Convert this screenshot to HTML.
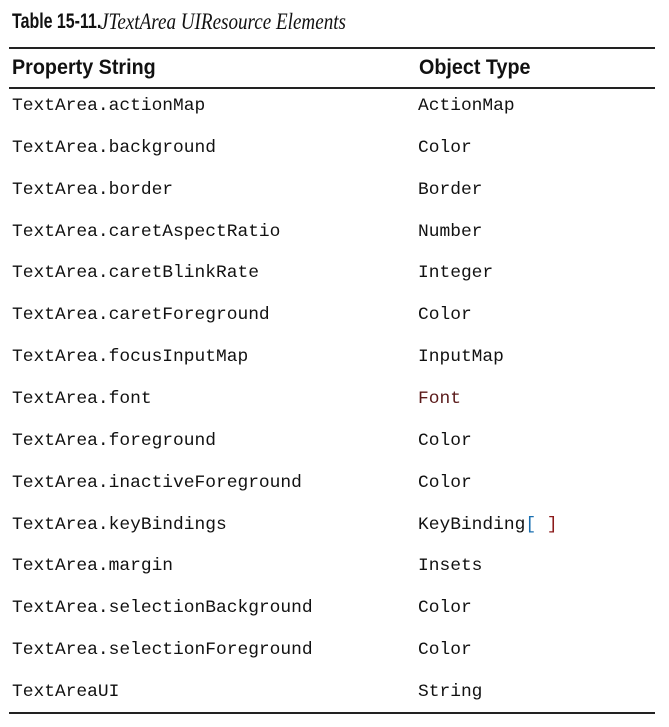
<!DOCTYPE html>
<html><head><style>
body{margin:0;width:669px;height:727px;background:#fff;position:relative;overflow:hidden;color:#111}
.l{position:absolute;left:9px;width:646px;height:2px;background:#222}
.m{position:absolute;font-family:"Liberation Mono",monospace;font-size:17.9px;line-height:24px;white-space:pre}
.h{position:absolute;font-family:"Liberation Sans",sans-serif;font-weight:bold;font-size:21px;line-height:26px;transform:scaleX(0.94);transform-origin:left center;white-space:pre}
.t{position:absolute;font-family:"Liberation Sans",sans-serif;font-weight:bold;font-size:21px;line-height:26px;transform:scaleX(0.76);transform-origin:left center;white-space:pre}
.s{position:absolute;font-family:"Liberation Serif",serif;font-style:italic;font-size:23px;line-height:26px;white-space:pre;transform:scaleX(0.83);transform-origin:left center}
</style></head><body>
<div class="t" style="left:12px;top:9px">Table 15-11.</div>
<div class="s" style="left:100px;top:9px">JTextArea UIResource Elements</div>
<div class="l" style="top:47px"></div>
<div class="h" style="left:12px;top:55px">Property String</div>
<div class="h" style="left:419px;top:55px">Object Type</div>
<div class="l" style="top:87px"></div>
<div class="l" style="top:712px"></div>
<div id="rows"></div>
<script>
var r=[["actionMap","ActionMap"],["background","Color"],["border","Border"],["caretAspectRatio","Number"],["caretBlinkRate","Integer"],["caretForeground","Color"],["focusInputMap","InputMap"],["font","Font"],["foreground","Color"],["inactiveForeground","Color"],["keyBindings","KeyBinding[ ]"],["margin","Insets"],["selectionBackground","Color"],["selectionForeground","Color"],["UI","String"]];
var h="";
r.forEach(function(x,i){var c=104+i*41.85-10;var p=x[0]=="UI"?"TextAreaUI":"TextArea."+x[0];
var t=x[1]=="KeyBinding[ ]"?'KeyBinding<span style="color:#1a6fb0">[</span> <span style="color:#8b1a1a">]</span>':x[1];
if(x[1]=="Font")t='<span style="color:#5a1a1a">Font</span>';
h+='<div class="m" style="left:12px;top:'+c+'px">'+p+'</div><div class="m" style="left:418px;top:'+c+'px">'+t+'</div>';});
document.getElementById("rows").innerHTML=h;
</script>
</body></html>
